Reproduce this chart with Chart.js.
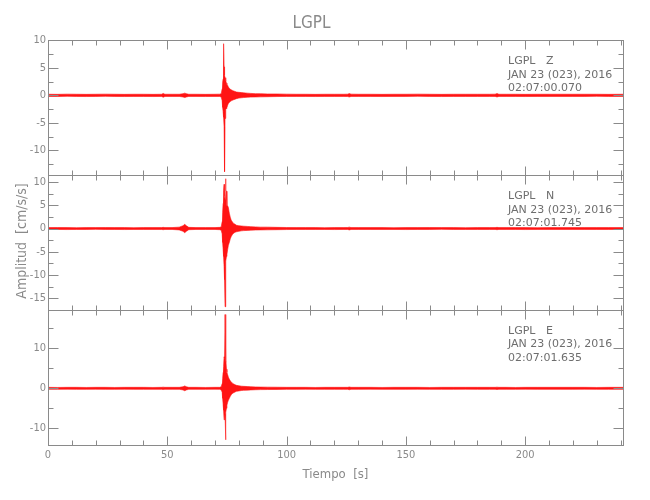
<!DOCTYPE html>
<html>
<head>
<meta charset="utf-8">
<script src="https://cdn.jsdelivr.net/npm/chart.js@4.4.1/dist/chart.umd.min.js"></script>
<style>
  body { margin: 0; background: #fff; }
  #box { width: 650px; height: 500px; }
</style>
</head>
<body>
<div id="box"><canvas id="chart-seismo"></canvas></div>
<script>
// sample times [s] (same for the three components)
let timeSec = [0, 4, 8, 12, 16, 20, 24, 28, 32, 36, 40, 44,
  47.6, 48.3, 49,
  52, 55, 56.6, 57.3, 58, 59,
  62, 66, 70, 72, 72.6,
  73.0, 73.2, 73.4, 73.6, 73.8, 74.0, 74.2, 74.4, 74.6, 74.8,
  75.0, 75.3, 75.6, 76.0, 76.4, 76.8, 77.3, 77.8, 78.4, 79.0,
  80, 81, 82, 83.5, 85, 87, 89, 92, 96, 100,
  104, 108, 112, 116, 120, 124, 125.6, 126.3, 127, 130,
  135, 140, 145, 150, 155, 160, 165, 170, 175, 180,
  185, 187.4, 188.2, 189, 192, 196, 200, 205, 210, 215,
  220, 225, 230, 235, 241];

// envelope of each trace at those times (cm/s/s)
let zHigh = [0.2, 0.18, 0.22, 0.2, 0.18, 0.2, 0.22, 0.2, 0.18, 0.2, 0.2, 0.18,
  0.2, 0.35, 0.2,
  0.2, 0.2, 0.3, 0.4, 0.3, 0.2,
  0.2, 0.18, 0.2, 0.22, 0.3,
  1.2, 2.4, 3.0, 9.4, 5.2, 3.6, 3.2, 2.8, 2.6, 2.2,
  2.0, 1.8, 1.5, 1.3, 1.1, 1.0, 0.9, 0.8, 0.7, 0.6,
  0.55, 0.5, 0.45, 0.4, 0.35, 0.3, 0.3, 0.25, 0.25, 0.22,
  0.2, 0.2, 0.18, 0.2, 0.2, 0.2, 0.22, 0.32, 0.22, 0.2,
  0.2, 0.18, 0.2, 0.2, 0.22, 0.2, 0.18, 0.2, 0.2, 0.2,
  0.2, 0.22, 0.32, 0.2, 0.2, 0.2, 0.18, 0.2, 0.2, 0.2,
  0.2, 0.2, 0.2, 0.18, 0.2];
let zLow = [-0.2, -0.22, -0.18, -0.2, -0.22, -0.2, -0.18, -0.2, -0.22, -0.2, -0.2, -0.22,
  -0.2, -0.35, -0.2,
  -0.2, -0.2, -0.3, -0.4, -0.3, -0.2,
  -0.2, -0.22, -0.2, -0.2, -0.3,
  -1.0, -2.2, -3.0, -4.0, -5.7, -13.9, -4.2, -3.0, -2.6, -2.4,
  -2.2, -1.8, -1.5, -1.3, -1.1, -1.0, -0.9, -0.8, -0.7, -0.6,
  -0.5, -0.45, -0.4, -0.35, -0.32, -0.3, -0.28, -0.25, -0.22, -0.2,
  -0.2, -0.2, -0.22, -0.2, -0.2, -0.2, -0.22, -0.3, -0.2, -0.2,
  -0.2, -0.22, -0.2, -0.2, -0.18, -0.2, -0.22, -0.2, -0.2, -0.2,
  -0.2, -0.2, -0.3, -0.2, -0.2, -0.2, -0.22, -0.2, -0.2, -0.2,
  -0.2, -0.2, -0.18, -0.2, -0.2];

let nHigh = [0.2, 0.22, 0.2, 0.18, 0.2, 0.2, 0.22, 0.2, 0.2, 0.18, 0.2, 0.2,
  0.2, 0.25, 0.2,
  0.2, 0.3, 0.6, 0.9, 0.6, 0.25,
  0.2, 0.2, 0.2, 0.25, 0.35,
  1.5, 3.5, 5.4, 8.2, 9.5, 7.0, 6.0, 10.7, 8.2, 8.0,
  5.0, 4.9, 4.5, 3.3, 2.4, 1.8, 1.4, 1.1, 0.9, 0.7,
  0.6, 0.55, 0.5, 0.45, 0.4, 0.35, 0.3, 0.3, 0.25, 0.22,
  0.2, 0.2, 0.2, 0.18, 0.2, 0.2, 0.22, 0.3, 0.2, 0.2,
  0.2, 0.2, 0.18, 0.2, 0.2, 0.22, 0.2, 0.2, 0.18, 0.2,
  0.2, 0.2, 0.25, 0.2, 0.2, 0.2, 0.2, 0.18, 0.2, 0.2,
  0.2, 0.2, 0.2, 0.2, 0.2];
let nLow = [-0.2, -0.2, -0.22, -0.2, -0.2, -0.18, -0.2, -0.2, -0.22, -0.2, -0.2, -0.2,
  -0.2, -0.25, -0.2,
  -0.2, -0.3, -0.6, -0.9, -0.6, -0.25,
  -0.2, -0.2, -0.2, -0.25, -0.35,
  -1.2, -3.0, -4.5, -6.0, -8.2, -11.0, -16.8, -9.0, -7.0, -6.0,
  -5.5, -4.5, -3.6, -3.0, -2.2, -1.7, -1.3, -1.0, -0.8, -0.7,
  -0.6, -0.5, -0.45, -0.4, -0.35, -0.32, -0.3, -0.28, -0.25, -0.22,
  -0.2, -0.2, -0.2, -0.2, -0.22, -0.2, -0.2, -0.3, -0.2, -0.2,
  -0.2, -0.2, -0.2, -0.22, -0.2, -0.2, -0.18, -0.2, -0.2, -0.2,
  -0.2, -0.2, -0.25, -0.2, -0.2, -0.2, -0.22, -0.2, -0.2, -0.2,
  -0.2, -0.2, -0.2, -0.2, -0.2];

let eHigh = [0.25, 0.22, 0.25, 0.25, 0.22, 0.25, 0.25, 0.22, 0.25, 0.25, 0.25, 0.22,
  0.25, 0.3, 0.25,
  0.25, 0.25, 0.4, 0.6, 0.4, 0.25,
  0.25, 0.22, 0.25, 0.25, 0.4,
  1.2, 2.5, 4.0, 5.5, 7.9, 7.5, 18.5, 6.5, 7.0, 4.8,
  4.0, 3.4, 2.8, 2.3, 1.9, 1.6, 1.3, 1.1, 0.9, 0.75,
  0.65, 0.55, 0.5, 0.45, 0.4, 0.35, 0.32, 0.3, 0.28, 0.25,
  0.25, 0.25, 0.22, 0.25, 0.25, 0.25, 0.25, 0.35, 0.25, 0.25,
  0.25, 0.22, 0.25, 0.25, 0.25, 0.22, 0.25, 0.25, 0.25, 0.25,
  0.25, 0.25, 0.3, 0.25, 0.25, 0.22, 0.25, 0.25, 0.25, 0.25,
  0.25, 0.25, 0.22, 0.25, 0.25];
let eLow = [-0.25, -0.25, -0.22, -0.25, -0.25, -0.22, -0.25, -0.25, -0.22, -0.25, -0.25, -0.25,
  -0.25, -0.3, -0.25,
  -0.25, -0.25, -0.4, -0.6, -0.4, -0.25,
  -0.25, -0.25, -0.22, -0.25, -0.4,
  -1.0, -2.5, -4.0, -5.5, -7.9, -7.6, -6.5, -12.9, -6.0, -5.0,
  -4.2, -3.5, -3.0, -2.5, -2.0, -1.6, -1.3, -1.1, -0.9, -0.75,
  -0.65, -0.55, -0.5, -0.45, -0.4, -0.35, -0.32, -0.3, -0.28, -0.25,
  -0.25, -0.22, -0.25, -0.25, -0.25, -0.25, -0.25, -0.35, -0.25, -0.25,
  -0.22, -0.25, -0.25, -0.25, -0.22, -0.25, -0.25, -0.25, -0.22, -0.25,
  -0.25, -0.25, -0.3, -0.25, -0.25, -0.25, -0.22, -0.25, -0.25, -0.25,
  -0.25, -0.22, -0.25, -0.25, -0.25];

// axis ranges and tick labels
let xRange = [0, 241];
let xLabels = [0, 50, 100, 150, 200];
let xMinor = [10, 20, 30, 40, 60, 70, 80, 90, 110, 120, 130, 140, 160, 170, 180, 190, 210, 220, 230, 240];
let zRange = [-14.55, 10];
let zLabels = [-10, -5, 0, 5, 10];
let zMinor = [-12.5, -7.5, -2.5, 2.5, 7.5];
let nRange = [-17.53, 11.44];
let nLabels = [-15, -10, -5, 0, 5, 10];
let nMinor = [-17.5, -12.5, -7.5, -2.5, 2.5, 7.5];
let eRange = [-14.2, 19.6];
let eLabels = [-10, 0, 10];
let eMinor = [-5, 5, 15];

// station header text of each panel
let zHeader = ['LGPL   Z', 'JAN 23 (023), 2016', '02:07:00.070'];
let nHeader = ['LGPL   N', 'JAN 23 (023), 2016', '02:07:01.745'];
let eHeader = ['LGPL   E', 'JAN 23 (023), 2016', '02:07:01.635'];

let narrow = "'Liberation Sans Narrow', 'DejaVu Sans Condensed', sans-serif";
let gray = '#8a8a8a';
let red = '#ff1414';

// one envelope edge as x/y points
function edge (values) {
    return timeSec.map((t, i) => ({x: t, y: values[i]}));
}

let panels = [
    {id: 'yZ', range: zRange, labels: zLabels, minor: zMinor, header: zHeader},
    {id: 'yN', range: nRange, labels: nLabels, minor: nMinor, header: nHeader},
    {id: 'yE', range: eRange, labels: eLabels, minor: eMinor, header: eHeader}
];

function yScale (p) {
    return {
        type: 'linear',
        position: 'left',
        stack: 'traces',
        stackWeight: 1,
        min: p.range[0],
        max: p.range[1],
        afterBuildTicks: s => { s.ticks = p.labels.map(v => ({value: v})); },
        afterFit: s => { s.width = 48; },
        grid: {display: false, drawTicks: false},
        border: {display: false},
        ticks: {color: gray, padding: 2, font: {family: narrow, size: 11}}
    };
}

// frame, inward tick marks and the text inside each panel
let framePlugin = {
    id: 'framePlugin',
    beforeDatasetsDraw (chart) {
        let ctx = chart.ctx;
        let area = chart.chartArea;
        ctx.save();
        ctx.fillStyle = '#6e6e6e';
        ctx.font = "11px 'DejaVu Sans', sans-serif";
        ctx.textBaseline = 'middle';
        panels.forEach(p => {
            let s = chart.scales[p.id];
            p.header.forEach((txt, i) => {
                ctx.fillText(txt, area.left + 460, s.top + 21 + i * 13.4);
            });
        });
        ctx.restore();
    },
    afterDatasetsDraw (chart) {
        let ctx = chart.ctx;
        let area = chart.chartArea;
        let x = chart.scales.x;
        ctx.save();
        ctx.strokeStyle = gray;
        ctx.lineWidth = 1;
        let line = (x1, y1, x2, y2) => {
            ctx.beginPath(); ctx.moveTo(x1, y1); ctx.lineTo(x2, y2); ctx.stroke();
        };
        panels.forEach(p => {
            let s = chart.scales[p.id];
            let top = Math.round(s.top) + 0.5;
            let bot = Math.round(s.bottom) + 0.5;
            let left = Math.round(area.left) + 0.5;
            let right = Math.round(area.right) + 0.5;
            ctx.strokeRect(left, top, right - left, bot - top);
            xLabels.concat(xMinor).forEach(v => {
                let px = Math.round(x.getPixelForValue(v)) + 0.5;
                let len = xLabels.includes(v) ? 9 : 5;
                line(px, top, px, top + len);
                line(px, bot, px, bot - len);
            });
            p.labels.concat(p.minor).forEach(v => {
                let py = Math.round(s.getPixelForValue(v)) + 0.5;
                let len = p.labels.includes(v) ? 10 : 5;
                line(left, py, left + len, py);
                line(right, py, right - len, py);
            });
        });
        // y axis title
        ctx.fillStyle = gray;
        ctx.font = '14px ' + narrow;
        ctx.textAlign = 'center';
        ctx.textBaseline = 'middle';
        ctx.translate(22, 241);
        ctx.rotate(-Math.PI / 2);
        ctx.fillText('Amplitud  [cm/s/s]', 0, 0);
        ctx.restore();
    }
};

let chartSeismo = document.getElementById('chart-seismo').getContext('2d');

let scales = {
    x: {
        type: 'linear',
        min: xRange[0],
        max: xRange[1],
        afterBuildTicks: s => { s.ticks = xLabels.map(v => ({value: v})); },
        afterFit: s => { s.height = 55; },
        grid: {display: false, drawTicks: false},
        border: {display: false},
        ticks: {color: gray, padding: 4, maxRotation: 0, font: {family: narrow, size: 11}},
        title: {display: true, text: 'Tiempo  [s]', color: gray,
                font: {family: narrow, size: 13}, padding: {top: 0, bottom: 18}}
    }
};
// stacked axes are placed bottom-up, so the last panel goes first
panels.slice().reverse().forEach(p => { scales[p.id] = yScale(p); });

// upper edge, then lower edge filled back to it
let datasets = [];
[[zHigh, zLow, 'yZ'], [nHigh, nLow, 'yN'], [eHigh, eLow, 'yE']].forEach(c => {
    datasets.push({data: edge(c[0]), yAxisID: c[2], fill: false});
    datasets.push({data: edge(c[1]), yAxisID: c[2], fill: '-1'});
});
datasets.forEach(d => Object.assign(d, {
    borderColor: red,
    backgroundColor: red,
    borderWidth: 0.6,
    pointRadius: 0,
    tension: 0
}));

let seismoChart = new Chart(chartSeismo, {
    type: 'line',
    data: {datasets: datasets},
    options: {
        responsive: true,
        maintainAspectRatio: false,
        animation: false,
        layout: {padding: {left: 0, right: 27, top: 0, bottom: 0}},
        plugins: {
            legend: {display: false},
            tooltip: {enabled: false},
            filler: {propagate: false},
            title: {display: true, text: 'LGPL', color: gray,
                    font: {family: narrow, size: 17, weight: 'normal'},
                    padding: {top: 13, bottom: 7}}
        },
        scales: scales
    },
    plugins: [framePlugin]
});
</script>
</body>
</html>
